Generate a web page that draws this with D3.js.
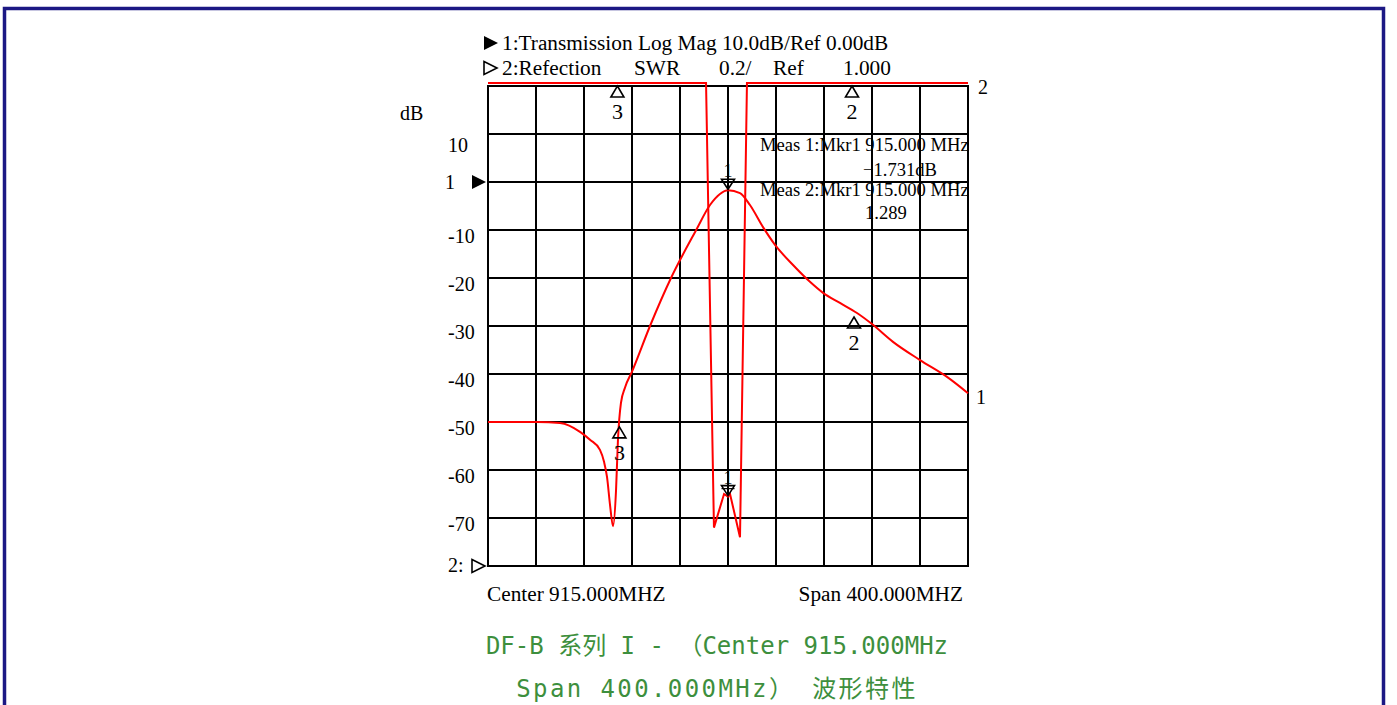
<!DOCTYPE html>
<html>
<head>
<meta charset="utf-8">
<script src="https://cdn.jsdelivr.net/npm/d3@7"></script>
<style>
  html, body { margin: 0; padding: 0; background: #fff; }
  svg { display: block; }
  .serif { font-family: "Liberation Serif", "Times New Roman", serif; fill: #000; }
</style>
</head>
<body>
<svg id="chart" width="1397" height="705"></svg>
<script>
// Sweep: Center 915 MHz, Span 400 MHz
const freqStart = 715;
const freqStop = 1115;
const freqGrid = d3.range(715, 1116, 40);

// Trace 1: transmission, Log Mag (dB)
const t1Freq = [715, 756, 775, 792, 800, 808.3, 811.7, 814.2, 816.7, 819.2, 821.7, 823.3, 825.8, 829.2, 835, 850, 867.5, 888.5, 900, 908.3, 915, 925, 933.3, 944.2, 954.2, 969.2, 983.3, 994.2, 1008.3, 1022.5, 1035, 1052.5, 1075, 1097.5, 1115];
const t1Db   = [-50, -50, -50.2, -52.1, -53.7, -55.8, -58.3, -61.5, -67.3, -71.7, -64.2, -53.7, -46, -42.8, -39.5, -30, -20, -10, -4.8, -2.5, -1.731, -2.3, -4.8, -9.4, -13.1, -17.3, -20.8, -23.1, -25.2, -27.3, -29.6, -33.3, -37.1, -40.6, -44];

// Trace 2: reflection, SWR (values above 3.0 are off-scale)
const t2Freq = [715, 896.7, 903.3, 911.7, 915, 916.7, 925, 930.8, 1115];
const t2Swr  = [3.0125, 3.0125, 1.16, 1.30, 1.289, 1.30, 1.12, 3.0125, 3.0125];

// dB axis
const dbMin = -80, dbMax = 20;
const dbGrid = d3.range(-80, 21, 10);
const dbTickValues = [10, -10, -20, -30, -40, -50, -60, -70];
const dbTickLabels = ["10", "-10", "-20", "-30", "-40", "-50", "-60", "-70"];

// SWR axis
const swrMin = 1.0, swrMax = 3.0;

// Markers
const markerIds   = ["1", "2", "3"];
const markerFreq  = [915, 1020, 824.5];
const markerT1    = [-1.731, -27.5, -50.4];
const markerT2    = [1.289, 3.0125, 3.0125];

// Header / footer text
const header1 = "1:Transmission Log Mag 10.0dB/Ref 0.00dB";
const header2Parts = ["2:Refection", "SWR", "0.2/", "Ref", "1.000"];
const centerLabel = "Center 915.000MHZ";
const spanLabel = "Span 400.000MHZ";
const titleLines = ["DF-B 系列 I - （Center 915.000MHz", "Span 400.000MHz） 波形特性"];

const svg = d3.select("#chart");

// Outer frame
svg.append("rect")
  .attr("x", 4.5).attr("y", 8.5).attr("width", 1379).attr("height", 720)
  .attr("fill", "none").attr("stroke", "#1c1884").attr("stroke-width", 3.5);

const plot = { left: 488, right: 968, top: 86, bottom: 566 };

const x = d3.scaleLinear().domain([freqStart, freqStop]).range([plot.left, plot.right]);
const yDb = d3.scaleLinear().domain([dbMin, dbMax]).range([plot.bottom, plot.top]);
const ySwr = d3.scaleLinear().domain([swrMin, swrMax]).range([plot.bottom, plot.top]);

// Grid
const grid = svg.append("g").attr("stroke", "#000").attr("stroke-width", 2).attr("fill", "none");
grid.selectAll("line.v").data(freqGrid).join("line")
  .attr("x1", d => x(d)).attr("x2", d => x(d))
  .attr("y1", plot.top).attr("y2", plot.bottom);
grid.selectAll("line.h").data(dbGrid).join("line")
  .attr("x1", plot.left - 1).attr("x2", plot.right + 1)
  .attr("y1", d => yDb(d)).attr("y2", d => yDb(d));

// dB labels
svg.append("g").selectAll("text").data(dbTickValues).join("text")
  .attr("class", "serif")
  .attr("x", 448)
  .attr("y", d => yDb(d) + (d > 0 ? 18 : 13))
  .attr("font-size", 20)
  .text((d, i) => dbTickLabels[i]);

svg.append("text").attr("class", "serif").attr("x", 400).attr("y", 120)
  .attr("font-size", 20).text("dB");

// Reference position indicators
svg.append("text").attr("class", "serif").attr("x", 445).attr("y", yDb(0) + 7)
  .attr("font-size", 20).text("1");
svg.append("path")
  .attr("d", d3.line()([[472, yDb(0) - 7], [486, yDb(0)], [472, yDb(0) + 7]]) + "Z")
  .attr("fill", "#000");
svg.append("text").attr("class", "serif").attr("x", 448).attr("y", ySwr(swrMin) + 6)
  .attr("font-size", 20).text("2:");
svg.append("path")
  .attr("d", d3.line()([[472, ySwr(swrMin) - 6.5], [485, ySwr(swrMin)], [472, ySwr(swrMin) + 6.5]]) + "Z")
  .attr("fill", "none").attr("stroke", "#000").attr("stroke-width", 1.6);

// Header
svg.append("path")
  .attr("d", d3.line()([[484, 36], [498, 43], [484, 50]]) + "Z")
  .attr("fill", "#000");
svg.append("text").attr("class", "serif").attr("x", 502).attr("y", 50)
  .attr("font-size", 21.3).text(header1);
svg.append("path")
  .attr("d", d3.line()([[484, 61.5], [497, 68], [484, 74.5]]) + "Z")
  .attr("fill", "none").attr("stroke", "#000").attr("stroke-width", 1.6);
const header2X = [502, 634, 719, 773, 843];
svg.append("g").selectAll("text").data(header2Parts).join("text")
  .attr("class", "serif")
  .attr("x", (d, i) => header2X[i]).attr("y", 75)
  .attr("font-size", 21.3).text(d => d);

// Traces
const lineT1 = d3.line().x(d => x(d[0])).y(d => yDb(d[1])).curve(d3.curveMonotoneX);
const lineT2 = d3.line().x(d => x(d[0])).y(d => ySwr(d[1]));

svg.append("path")
  .datum(t2Freq.map((f, i) => [f, t2Swr[i]]))
  .attr("d", lineT2)
  .attr("fill", "none").attr("stroke", "#ff0000").attr("stroke-width", 2);

svg.append("path")
  .datum(t1Freq.map((f, i) => [f, t1Db[i]]))
  .attr("d", lineT1)
  .attr("fill", "none").attr("stroke", "#ff0000").attr("stroke-width", 2);

// Trace end labels
svg.append("text").attr("class", "serif")
  .attr("x", x(freqStop) + 10).attr("y", ySwr(t2Swr[t2Swr.length - 1]) + 11)
  .attr("font-size", 20).text("2");
svg.append("text").attr("class", "serif")
  .attr("x", x(freqStop) + 8).attr("y", yDb(t1Db[t1Db.length - 1]) + 11)
  .attr("font-size", 20).text("1");

// Marker symbols
function upMarker(g, px, py, label) {
  // open triangle with apex just below the trace point, id underneath
  const a = py + 3;
  g.append("path")
    .attr("d", d3.line()([[px, a], [px + 6.5, a + 11], [px - 6.5, a + 11]]) + "Z")
    .attr("fill", "none").attr("stroke", "#000").attr("stroke-width", 1.6);
  g.append("text").attr("class", "serif")
    .attr("x", px).attr("y", a + 33)
    .attr("text-anchor", "middle").attr("font-size", 22).text(label);
}
function downMarker(g, px, py, label) {
  // open triangle pointing at the trace point, id above
  const a = py - 1;
  g.append("path")
    .attr("d", d3.line()([[px, a], [px + 6.5, a - 10], [px - 6.5, a - 10]]) + "Z")
    .attr("fill", "none").attr("stroke", "#000").attr("stroke-width", 1.6);
  g.append("line")
    .attr("x1", px - 6.5).attr("x2", px + 6.5).attr("y1", a - 7).attr("y2", a - 7)
    .attr("stroke", "#000").attr("stroke-width", 1.2);
  g.append("text").attr("class", "serif")
    .attr("x", px).attr("y", a - 12)
    .attr("text-anchor", "middle").attr("font-size", 18).text(label);
}

const mk = svg.append("g");
markerIds.forEach((id, i) => {
  const px = x(markerFreq[i]);
  if (id === "1") {
    downMarker(mk, px, yDb(markerT1[i]), id);
    downMarker(mk, px, ySwr(markerT2[i]), id);
  } else {
    upMarker(mk, px, yDb(markerT1[i]), id);
    upMarker(mk, px - 2, ySwr(markerT2[i]), id);
  }
});

// Marker readout
const fmtF = d3.format(".3f");
const meas = [
  { x: 760, y: 151, t: `Meas 1:Mkr1 ${fmtF(markerFreq[0])} MHz` },
  { x: 863, y: 176, t: `${fmtF(markerT1[0])}dB` },
  { x: 760, y: 196, t: `Meas 2:Mkr1 ${fmtF(markerFreq[0])} MHz` },
  { x: 865, y: 219, t: `${fmtF(markerT2[0])}` }
];
svg.append("g").selectAll("text").data(meas).join("text")
  .attr("class", "serif")
  .attr("x", d => d.x).attr("y", d => d.y)
  .attr("font-size", 18.6).text(d => d.t);

// Sweep settings
svg.append("text").attr("class", "serif").attr("x", 487).attr("y", 601)
  .attr("font-size", 21.3).text(centerLabel);
svg.append("text").attr("class", "serif").attr("x", 963).attr("y", 601)
  .attr("text-anchor", "end").attr("font-size", 21.3).text(spanLabel);

// Caption
const captionSpacing = [0, 2.4];
svg.append("g").selectAll("text").data(titleLines).join("text")
  .attr("x", 717).attr("y", (d, i) => 654 + i * 43)
  .attr("text-anchor", "middle")
  .attr("font-family", "'DejaVu Sans Mono', 'Noto Sans CJK SC', monospace")
  .attr("font-size", 24)
  .attr("letter-spacing", (d, i) => captionSpacing[i])
  .attr("fill", "#3d8f3d")
  .text(d => d);
</script>
</body>
</html>
